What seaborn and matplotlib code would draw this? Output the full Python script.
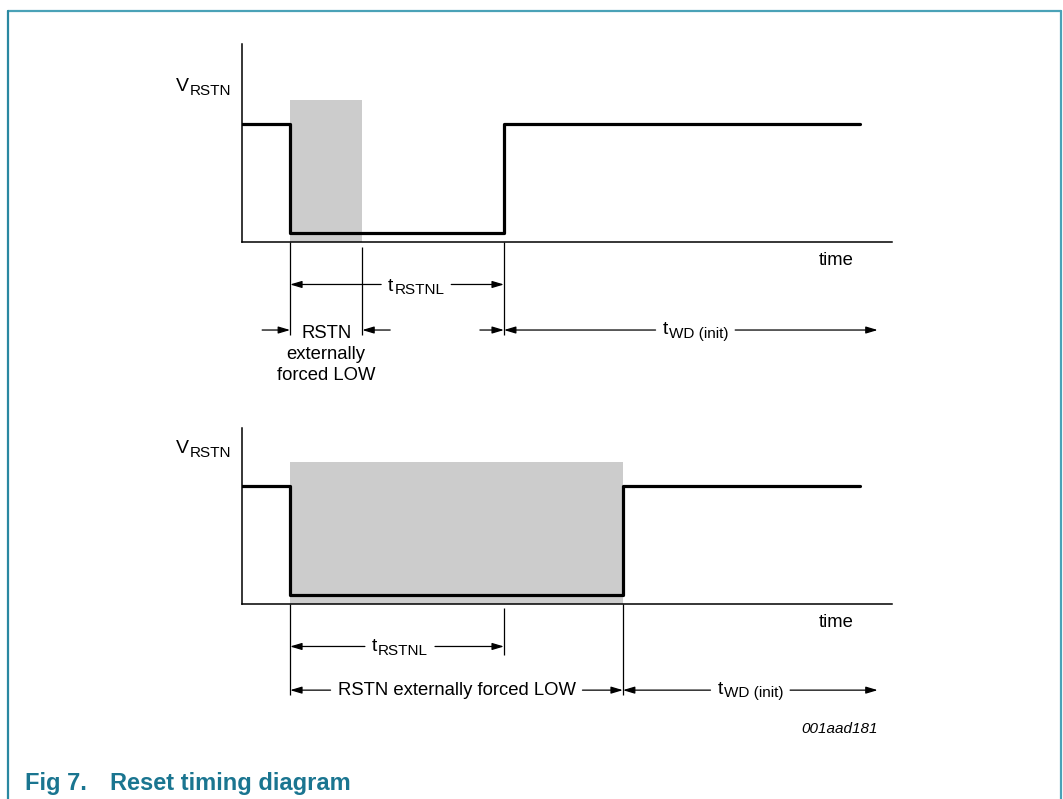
import matplotlib
matplotlib.use('Agg')
import matplotlib.pyplot as plt
from matplotlib.lines import Line2D
from matplotlib.patches import ArrowStyle
import seaborn as sns

# timing data, time units along the x axis (0..100)
t_fall = 7.4          # RSTN goes LOW
top_force_end = 18.5  # top case: external force released early
top_rise = 40.3       # top case: RSTN back HIGH after tRSTNL
bot_rise = 58.6       # bottom case: RSTN HIGH when external force released
t_rstnl_end = 40.3
t_wd_end = 97.8
t_end = 95.1

HIGH = 1.0
LOW = 0.08
SHADE_TOP = 1.2

top_edges = [0, t_fall, top_rise, t_end]
top_levels = [HIGH, LOW, HIGH, HIGH]
bot_edges = [0, t_fall, bot_rise, t_end]
bot_levels = [HIGH, LOW, HIGH, HIGH]

top_shade = [t_fall, top_force_end]
bot_shade = [t_fall, bot_rise]

# texts
signal_main, signal_sub = 'V', 'RSTN'
rstnl_main, rstnl_sub = 't', 'RSTNL'
wd_main, wd_sub = 't', 'WD (init)'
top_force_lines = ['RSTN', 'externally', 'forced LOW']
bot_force_label = 'RSTN externally forced LOW'
x_label = 'time'
fig_code = '001aad181'
caption_num = 'Fig 7.'
caption_title = 'Reset timing diagram'

sns.set_theme(style='white')
plt.rcParams['font.family'] = ['Liberation Sans', 'DejaVu Sans']
plt.rcParams['text.color'] = 'black'

W, H = 1063, 799
fig = plt.figure(figsize=(W / 100, H / 100), dpi=100)
renderer = fig.canvas.get_renderer()
PX_PER_UNIT = 118  # vertical pixels per signal unit

ax_top = fig.add_axes([242 / W, 1 - 242 / H, 650 / W, 198 / H])
ax_bot = fig.add_axes([242 / W, 1 - 604 / H, 650 / W, 176 / H])

head = ArrowStyle('-|>', head_length=0.5, head_width=0.15)
arrow_kw = dict(arrowstyle=head, mutation_scale=14, color='black', lw=0.9, shrinkB=0)


def width_pts(t):
    return t.get_window_extent(renderer).width * 72 / fig.dpi


def sub_label(ax, x, y, main, sub, ha='center', dy=-4.5, main_size=14, sub_size=11, drop=2.4):
    kw = dict(textcoords='offset points', va='baseline', ha='left',
              annotation_clip=False, color='black', zorder=5)
    t1 = ax.annotate(main, (x, y), xytext=(0, dy), fontsize=main_size, **kw)
    t2 = ax.annotate(sub, (x, y), xytext=(0, dy - drop), fontsize=sub_size, **kw)
    w1 = width_pts(t1) + 0.6
    total = w1 + width_pts(t2)
    start = {'center': -total / 2, 'right': -total, 'left': 0}[ha]
    t1.xyann = (start, dy)
    t2.xyann = (start + w1, dy - drop)
    return total


def arrow(ax, x_tail, x_head, y, shrink=0):
    ax.annotate('', xy=(x_head, y), xytext=(x_tail, y), annotation_clip=False,
                arrowprops=dict(shrinkA=shrink, **arrow_kw))


def labelled_span(ax, x0, x1, y, half_width, label_x=None, pad=5):
    if label_x is None:
        label_x = (x0 + x1) / 2
    gap = half_width + pad
    arrow(ax, label_x, x0, y, gap)
    arrow(ax, label_x, x1, y, gap)


def draw_panel(ax, edges, levels, shade, ylim_top):
    ax.fill_between(shade, 0, SHADE_TOP, color='#cccccc', lw=0, zorder=1)
    sns.lineplot(x=edges, y=levels, ax=ax, drawstyle='steps-post', estimator=None,
                 color='black', linewidth=2.3, zorder=3)
    ax.set_xlim(0, 100)
    ax.set_ylim(0, ylim_top)
    ax.set_xticks([])
    ax.set_yticks([])
    ax.set_xlabel('')
    ax.set_ylabel('')
    ax.patch.set_visible(False)
    sns.despine(ax=ax)
    for side in ['left', 'bottom']:
        ax.spines[side].set_color('black')
        ax.spines[side].set_linewidth(1.1)
    sub_label(ax, -1.7, 1.28, signal_main, signal_sub, ha='right', dy=0, drop=2.6)
    ax.text(91.4, -0.16, x_label, ha='center', va='center', fontsize=13.3)


draw_panel(ax_top, top_edges, top_levels, top_shade, 198 / PX_PER_UNIT)
draw_panel(ax_bot, bot_edges, bot_levels, bot_shade, 176 / PX_PER_UNIT)

# ---- top panel annotations ----
ref = dict(colors='black', lw=0.9, clip_on=False)
ax_top.vlines([t_fall, top_rise], 0, -0.79, **ref)
ax_top.vlines(top_force_end, -0.04, -0.79, **ref)

y_rstnl = -0.36
w = sub_label(ax_top, 26.8, y_rstnl, rstnl_main, rstnl_sub)
labelled_span(ax_top, t_fall, t_rstnl_end, y_rstnl, w / 2, label_x=26.8)

y_row = -0.746
arrow(ax_top, t_fall - 4.3, t_fall, y_row)
arrow(ax_top, top_force_end + 4.3, top_force_end, y_row)
arrow(ax_top, top_rise - 3.7, top_rise, y_row)
wd_x = (top_rise + t_wd_end) / 2 + 0.7
w = sub_label(ax_top, wd_x, y_row, wd_main, wd_sub, dy=-3)
labelled_span(ax_top, top_rise, t_wd_end, y_row, w / 2, label_x=wd_x)

mid = (t_fall + top_force_end) / 2
for txt, yy in zip(top_force_lines, [-0.81, -0.99, -1.17]):
    ax_top.text(mid, yy, txt, ha='center', va='baseline', fontsize=13.3)

# ---- bottom panel annotations ----
ax_bot.vlines([t_fall, bot_rise], 0, -0.77, **ref)
ax_bot.vlines(t_rstnl_end, -0.03, -0.43, **ref)

w = sub_label(ax_bot, 24.3, y_rstnl, rstnl_main, rstnl_sub, dy=-3.6)
labelled_span(ax_bot, t_fall, t_rstnl_end, y_rstnl, w / 2, label_x=24.3)

y_row_b = -0.73
mid = (t_fall + bot_rise) / 2
t = ax_bot.text(mid, y_row_b - 0.045, bot_force_label, ha='center', va='baseline', fontsize=13.3)
labelled_span(ax_bot, t_fall, bot_rise, y_row_b, width_pts(t) / 2)

w = sub_label(ax_bot, (bot_rise + t_wd_end) / 2, y_row_b, wd_main, wd_sub, dy=-2.5)
labelled_span(ax_bot, bot_rise, t_wd_end, y_row_b, w / 2)

ax_bot.text(t_wd_end, -1.09, fig_code, ha='right', va='baseline', fontsize=11, style='italic')

# ---- frame and caption ----
frame = '#4aa2b7'
fig.add_artist(Line2D([8 / W, 1061 / W], [1 - 11 / H, 1 - 11 / H], color=frame, lw=1.6))
fig.add_artist(Line2D([8 / W, 8 / W], [0, 1 - 11 / H], color='#2a88a1', lw=1.6))
fig.add_artist(Line2D([1061 / W, 1061 / W], [0, 1 - 11 / H], color=frame, lw=1.6))

cap_color = '#1a7590'
fig.text(25 / W, 1 - 790 / H, caption_num, fontsize=17, fontweight='bold', color=cap_color, va='baseline')
fig.text(110 / W, 1 - 790 / H, caption_title, fontsize=17, fontweight='bold', color=cap_color, va='baseline')

fig.savefig('out.png', dpi=100)
